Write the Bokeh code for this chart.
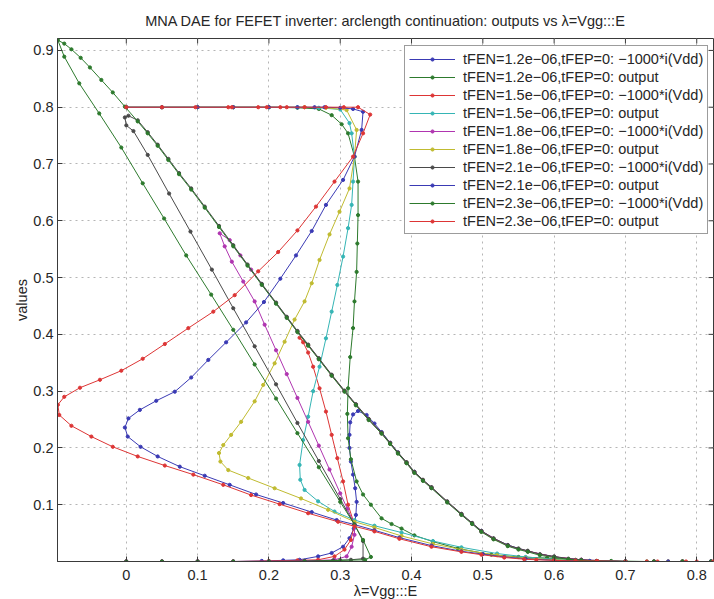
import math
from bokeh.plotting import figure
from bokeh.models import Range1d, FixedTicker, Legend, LegendItem
from bokeh.embed import file_html
from bokeh.resources import INLINE

# ---------------- data (lambda, value) ----------------
x_ticks = [0.0, 0.1, 0.2, 0.3, 0.4, 0.5, 0.6, 0.7, 0.8]
x_tick_labels = ["0", "0.1", "0.2", "0.3", "0.4", "0.5", "0.6", "0.7", "0.8"]
y_ticks = [0.1, 0.2, 0.3, 0.4, 0.5, 0.6, 0.7, 0.8, 0.9]
y_tick_labels = ["0.1", "0.2", "0.3", "0.4", "0.5", "0.6", "0.7", "0.8", "0.9"]
x_lim = (-0.0965, 0.8235)
y_lim = (0.0, 0.921)

series_labels = [
    "tFEN=1.2e\u221206,tFEP=0: \u22121000*i(Vdd)",
    "tFEN=1.2e\u221206,tFEP=0: output",
    "tFEN=1.5e\u221206,tFEP=0: \u22121000*i(Vdd)",
    "tFEN=1.5e\u221206,tFEP=0: output",
    "tFEN=1.8e\u221206,tFEP=0: \u22121000*i(Vdd)",
    "tFEN=1.8e\u221206,tFEP=0: output",
    "tFEN=2.1e\u221206,tFEP=0: \u22121000*i(Vdd)",
    "tFEN=2.1e\u221206,tFEP=0: output",
    "tFEN=2.3e\u221206,tFEP=0: \u22121000*i(Vdd)",
    "tFEN=2.3e\u221206,tFEP=0: output",
]

cur_12 = [(0.0, 0.0), (0.05, 0.0), (0.1, 0.0), (0.15, 0.0), (0.19, 0.001), (0.22, 0.002), (0.243, 0.003),
          (0.269, 0.009), (0.288, 0.015), (0.304, 0.026), (0.313, 0.041), (0.319, 0.058), (0.322, 0.082),
          (0.323, 0.105), (0.321, 0.129), (0.318, 0.153), (0.315, 0.176), (0.313, 0.2), (0.313, 0.223),
          (0.314, 0.245), (0.318, 0.259), (0.325, 0.265), (0.337, 0.258), (0.348, 0.243), (0.358, 0.228),
          (0.37, 0.209), (0.381, 0.192), (0.393, 0.174), (0.404, 0.158), (0.416, 0.143), (0.428, 0.13),
          (0.45, 0.105), (0.47, 0.083), (0.485, 0.067), (0.498, 0.054), (0.515, 0.04), (0.535, 0.029),
          (0.563, 0.018), (0.6, 0.008), (0.638, 0.003), (0.66, 0.001), (0.7, 0.0), (0.74, 0.0), (0.78, 0.0),
          (0.82, 0.0)]

out_12 = [(0.0, 0.8), (0.05, 0.8), (0.1, 0.8), (0.15, 0.8), (0.2, 0.8), (0.24, 0.799), (0.27, 0.797),
          (0.288, 0.786), (0.302, 0.77), (0.311, 0.754), (0.32, 0.713), (0.325, 0.669), (0.325, 0.61),
          (0.324, 0.56), (0.323, 0.51), (0.32, 0.458), (0.318, 0.411), (0.314, 0.36), (0.311, 0.305),
          (0.31, 0.26), (0.311, 0.217), (0.315, 0.18), (0.323, 0.141), (0.332, 0.118), (0.343, 0.1),
          (0.358, 0.076), (0.372, 0.066), (0.386, 0.058), (0.404, 0.046), (0.43, 0.035), (0.465, 0.023),
          (0.512, 0.012), (0.55, 0.008), (0.59, 0.006), (0.63, 0.003), (0.68, 0.001), (0.73, 0.0),
          (0.78, 0.0), (0.82, 0.0)]

cur_15 = [(0.0, 0.0), (0.05, 0.0), (0.1, 0.0), (0.15, 0.0), (0.2, 0.001), (0.24, 0.002), (0.269, 0.003),
          (0.292, 0.009), (0.306, 0.021), (0.315, 0.038), (0.32, 0.065), (0.311, 0.1), (0.304, 0.141),
          (0.296, 0.182), (0.288, 0.223), (0.28, 0.264), (0.271, 0.305), (0.262, 0.343), (0.255, 0.368),
          (0.248, 0.386), (0.243, 0.394), (0.255, 0.381), (0.27, 0.357), (0.288, 0.328), (0.306, 0.3),
          (0.322, 0.276), (0.34, 0.25), (0.358, 0.226), (0.37, 0.208), (0.381, 0.191), (0.393, 0.174),
          (0.404, 0.157), (0.416, 0.143), (0.428, 0.13), (0.45, 0.105), (0.47, 0.083), (0.485, 0.067),
          (0.498, 0.053), (0.515, 0.04), (0.535, 0.028), (0.563, 0.018), (0.6, 0.008), (0.638, 0.003),
          (0.66, 0.001), (0.7, 0.0), (0.74, 0.0), (0.78, 0.0), (0.82, 0.0)]

out_15 = [(0.0, 0.8), (0.05, 0.8), (0.1, 0.8), (0.15, 0.8), (0.2, 0.8), (0.24, 0.8), (0.27, 0.799),
          (0.3, 0.796), (0.313, 0.772), (0.316, 0.754), (0.32, 0.713), (0.318, 0.669), (0.316, 0.628),
          (0.311, 0.587), (0.304, 0.537), (0.296, 0.487), (0.288, 0.44), (0.28, 0.393), (0.271, 0.343),
          (0.262, 0.3), (0.255, 0.255), (0.248, 0.214), (0.243, 0.17), (0.244, 0.144), (0.25, 0.126),
          (0.269, 0.106), (0.292, 0.088), (0.32, 0.073), (0.348, 0.063), (0.386, 0.051), (0.43, 0.036),
          (0.47, 0.025), (0.52, 0.014), (0.56, 0.008), (0.6, 0.004), (0.65, 0.001), (0.7, 0.0),
          (0.76, 0.0), (0.82, 0.0)]

cur_18 = [(0.0, 0.0), (0.05, 0.0), (0.1, 0.0), (0.15, 0.0), (0.2, 0.0), (0.25, 0.001), (0.292, 0.003),
          (0.309, 0.009), (0.316, 0.026), (0.32, 0.047), (0.32, 0.065), (0.31, 0.093), (0.3, 0.12),
          (0.285, 0.162), (0.27, 0.204), (0.255, 0.246), (0.24, 0.288), (0.225, 0.33), (0.21, 0.372),
          (0.194, 0.417), (0.18, 0.458), (0.164, 0.493), (0.148, 0.528), (0.138, 0.555), (0.131, 0.578),
          (0.145, 0.566), (0.16, 0.539), (0.175, 0.514), (0.19, 0.488), (0.21, 0.455), (0.225, 0.43),
          (0.24, 0.405), (0.255, 0.381), (0.27, 0.357), (0.288, 0.328), (0.306, 0.3), (0.322, 0.276),
          (0.34, 0.25), (0.358, 0.226), (0.381, 0.191), (0.404, 0.157), (0.428, 0.13), (0.45, 0.105),
          (0.47, 0.083), (0.498, 0.053), (0.535, 0.028), (0.563, 0.018), (0.6, 0.008), (0.638, 0.003),
          (0.7, 0.0), (0.76, 0.0), (0.82, 0.0)]

out_18 = [(0.0, 0.8), (0.05, 0.8), (0.1, 0.8), (0.15, 0.8), (0.2, 0.8), (0.25, 0.8), (0.28, 0.799),
          (0.309, 0.795), (0.323, 0.76), (0.32, 0.713), (0.313, 0.657), (0.299, 0.616), (0.285, 0.576),
          (0.271, 0.531), (0.26, 0.49), (0.25, 0.458), (0.236, 0.426), (0.222, 0.387), (0.208, 0.349),
          (0.192, 0.311), (0.18, 0.282), (0.161, 0.246), (0.147, 0.223), (0.136, 0.205), (0.13, 0.191),
          (0.132, 0.176), (0.143, 0.161), (0.171, 0.147), (0.208, 0.129), (0.245, 0.111), (0.283, 0.091),
          (0.32, 0.07), (0.348, 0.06), (0.386, 0.045), (0.43, 0.031), (0.47, 0.021), (0.52, 0.011),
          (0.56, 0.006), (0.6, 0.003), (0.65, 0.001), (0.7, 0.0), (0.76, 0.0), (0.82, 0.0)]

cur_21 = [(0.0, 0.0), (0.05, 0.0), (0.1, 0.0), (0.15, 0.0), (0.2, 0.0), (0.25, 0.001), (0.29, 0.002),
          (0.315, 0.003), (0.332, 0.005), (0.332, 0.036), (0.32, 0.065), (0.3, 0.11), (0.27, 0.177),
          (0.24, 0.244), (0.21, 0.312), (0.18, 0.379), (0.15, 0.446), (0.12, 0.514), (0.09, 0.581),
          (0.06, 0.648), (0.03, 0.716), (0.01, 0.758), (0.0, 0.768), (-0.002, 0.782), (0.003, 0.785),
          (0.016, 0.777), (0.03, 0.756), (0.044, 0.734), (0.059, 0.709), (0.074, 0.684), (0.091, 0.657),
          (0.11, 0.625), (0.13, 0.591), (0.15, 0.557), (0.17, 0.523), (0.19, 0.489), (0.21, 0.456),
          (0.225, 0.431), (0.24, 0.406), (0.255, 0.382), (0.27, 0.358), (0.288, 0.329), (0.306, 0.301),
          (0.322, 0.277), (0.34, 0.251), (0.358, 0.227), (0.37, 0.209), (0.381, 0.192), (0.393, 0.175),
          (0.404, 0.158), (0.416, 0.144), (0.428, 0.131), (0.45, 0.106), (0.47, 0.084), (0.485, 0.068),
          (0.498, 0.054), (0.515, 0.041), (0.535, 0.029), (0.55, 0.023), (0.563, 0.019), (0.58, 0.013),
          (0.6, 0.009), (0.62, 0.005), (0.638, 0.003), (0.66, 0.001), (0.7, 0.0), (0.74, 0.0),
          (0.78, 0.0), (0.82, 0.0)]

out_21 = [(0.0, 0.8), (0.05, 0.8), (0.1, 0.8), (0.15, 0.8), (0.2, 0.8), (0.24, 0.8), (0.264, 0.8),
          (0.278, 0.8), (0.3, 0.799), (0.318, 0.797), (0.332, 0.792), (0.33, 0.76), (0.32, 0.713),
          (0.304, 0.672), (0.28, 0.628), (0.26, 0.582), (0.238, 0.539), (0.216, 0.498), (0.193, 0.457),
          (0.168, 0.421), (0.14, 0.386), (0.115, 0.355), (0.091, 0.324), (0.068, 0.299), (0.042, 0.283),
          (0.019, 0.267), (0.003, 0.252), (-0.002, 0.236), (0.002, 0.22), (0.02, 0.202), (0.044, 0.185),
          (0.075, 0.167), (0.11, 0.151), (0.145, 0.135), (0.182, 0.118), (0.22, 0.103), (0.26, 0.087),
          (0.295, 0.073), (0.32, 0.065), (0.348, 0.055), (0.383, 0.042), (0.428, 0.028), (0.47, 0.018),
          (0.5, 0.013), (0.53, 0.008), (0.56, 0.005), (0.6, 0.002), (0.65, 0.001), (0.7, 0.0),
          (0.76, 0.0), (0.82, 0.0)]

cur_23 = [(0.0, 0.0), (0.05, 0.0), (0.1, 0.0), (0.15, 0.0), (0.2, 0.0), (0.25, 0.0), (0.3, 0.002),
          (0.335, 0.003), (0.343, 0.008), (0.332, 0.038), (0.32, 0.065), (0.3, 0.105), (0.27, 0.166),
          (0.24, 0.226), (0.21, 0.287), (0.18, 0.347), (0.15, 0.408), (0.119, 0.47), (0.084, 0.539),
          (0.053, 0.604), (0.023, 0.666), (-0.007, 0.729), (-0.038, 0.789), (-0.066, 0.842),
          (-0.087, 0.889), (-0.096, 0.918), (-0.087, 0.912), (-0.077, 0.902), (-0.064, 0.887),
          (-0.051, 0.87), (-0.035, 0.848), (-0.019, 0.826), (-0.002, 0.801), (0.016, 0.775), (0.03, 0.754),
          (0.044, 0.732), (0.059, 0.707), (0.074, 0.682), (0.091, 0.655), (0.11, 0.623), (0.13, 0.589),
          (0.15, 0.555), (0.17, 0.521), (0.19, 0.487), (0.21, 0.454), (0.225, 0.429), (0.24, 0.404),
          (0.255, 0.38), (0.27, 0.356), (0.288, 0.327), (0.306, 0.299), (0.322, 0.275), (0.34, 0.249),
          (0.358, 0.225), (0.37, 0.207), (0.381, 0.19), (0.393, 0.173), (0.404, 0.156), (0.416, 0.142),
          (0.428, 0.129), (0.45, 0.104), (0.47, 0.082), (0.485, 0.066), (0.498, 0.052), (0.515, 0.039),
          (0.535, 0.027), (0.55, 0.021), (0.563, 0.017), (0.58, 0.011), (0.6, 0.007), (0.62, 0.004),
          (0.638, 0.002), (0.66, 0.001), (0.7, 0.0), (0.74, 0.0), (0.78, 0.0), (0.82, 0.0)]

out_23 = [(0.0, 0.8), (0.05, 0.8), (0.097, 0.8), (0.143, 0.8), (0.148, 0.8), (0.185, 0.8), (0.197, 0.8),
          (0.216, 0.8), (0.225, 0.8), (0.25, 0.8), (0.28, 0.8), (0.305, 0.8), (0.325, 0.8), (0.342, 0.787),
          (0.332, 0.754), (0.318, 0.713), (0.292, 0.669), (0.266, 0.625), (0.24, 0.583), (0.213, 0.545),
          (0.185, 0.511), (0.152, 0.469), (0.122, 0.44), (0.087, 0.411), (0.054, 0.383), (0.023, 0.357),
          (-0.007, 0.336), (-0.037, 0.32), (-0.065, 0.306), (-0.087, 0.29), (-0.096, 0.276),
          (-0.094, 0.258), (-0.077, 0.239), (-0.049, 0.22), (-0.019, 0.202), (0.016, 0.185),
          (0.054, 0.169), (0.094, 0.153), (0.136, 0.135), (0.175, 0.117), (0.215, 0.101), (0.255, 0.085),
          (0.297, 0.07), (0.32, 0.062), (0.348, 0.053), (0.383, 0.04), (0.428, 0.026), (0.47, 0.017),
          (0.498, 0.012), (0.53, 0.007), (0.558, 0.004), (0.575, 0.003), (0.6, 0.002), (0.63, 0.001),
          (0.66, 0.001), (0.7, 0.0), (0.73, 0.0), (0.745, 0.0), (0.785, 0.0), (0.8, 0.0), (0.823, 0.0)]

series_data = [cur_12, out_12, cur_15, out_15, cur_18, out_18, cur_21, out_21, cur_23, out_23]
series_colors = ["#3a3ab4", "#2d7a2d", "#dd3535", "#35b5b5", "#b035b0", "#c0bb30", "#4a4a4a",
                 "#3a3ab4", "#2d7a2d", "#dd3535"]

FONT = "Liberation Sans"
TXT = "#262626"
AX = "#3a3a3a"

p = figure(frame_width=656, frame_height=523,
           x_range=Range1d(*x_lim), y_range=Range1d(*y_lim),
           output_backend="svg", toolbar_location=None,
           min_border_left=57, min_border_right=1, min_border_top=37, min_border_bottom=38,
           background_fill_color="white", border_fill_color="white")

p.title.text = "MNA DAE for FEFET inverter: arclength continuation: outputs vs \u03bb=Vgg:::E"
p.title.align = "center"
p.title.text_font = FONT
p.title.text_font_size = "14.5px"
p.title.text_font_style = "normal"
p.title.text_color = TXT
p.title.standoff = 20

xt = FixedTicker(ticks=x_ticks)
yt = FixedTicker(ticks=y_ticks)

for ax, ticker in ((p.xaxis[0], xt), (p.yaxis[0], yt)):
    ax.ticker = ticker
    ax.major_tick_in = 5
    ax.major_tick_out = 0
    ax.minor_tick_line_color = None
    ax.axis_line_color = AX
    ax.major_tick_line_color = AX
    ax.major_label_text_font = FONT
    ax.major_label_text_font_size = "14.5px"
    ax.major_label_text_color = TXT
    ax.axis_label_text_font = FONT
    ax.axis_label_text_font_size = "14.5px"
    ax.axis_label_text_font_style = "normal"
    ax.axis_label_text_color = TXT

p.xaxis[0].major_label_overrides = dict(zip(x_ticks, x_tick_labels))
p.yaxis[0].major_label_overrides = dict(zip(y_ticks, y_tick_labels))
p.xaxis[0].axis_label = "\u03bb=Vgg:::E"
p.yaxis[0].axis_label = "values"
p.xaxis[0].major_label_standoff = 8
p.xaxis[0].axis_label_standoff = 0
p.yaxis[0].major_label_standoff = 4
p.yaxis[0].axis_label_standoff = 0

# box ticks on the top and right edges (MATLAB "box on"), pointing inwards
p.ray(x=x_ticks, y=[y_lim[1]] * len(x_ticks), length=5, length_units="screen",
      angle=-math.pi / 2, line_color=AX, line_width=1)
p.ray(x=[x_lim[1]] * len(y_ticks), y=y_ticks, length=5, length_units="screen",
      angle=math.pi, line_color=AX, line_width=1)

p.xgrid.ticker = xt
p.ygrid.ticker = yt
for g in (p.xgrid[0], p.ygrid[0]):
    g.grid_line_color = "#b5b5b5"
    g.grid_line_dash = "2 4"
    g.grid_line_width = 1
p.outline_line_color = AX

items = []
for data, col, lab in zip(series_data, series_colors, series_labels):
    xs = [pt[0] for pt in data]
    ys = [pt[1] for pt in data]
    r1 = p.line(xs, ys, line_color=col, line_width=1)
    r2 = p.scatter(xs, ys, marker="circle", size=3.2, fill_color=col, line_color=col)
    items.append(LegendItem(label=lab, renderers=[r1, r2]))

legend = Legend(items=items, location=(347, 327), margin=0, padding=4, spacing=1,
                label_height=17, glyph_height=8, glyph_width=46, label_standoff=8,
                label_text_font=FONT, label_text_font_size="14.5px", label_text_color=TXT,
                border_line_color=AX, border_line_width=1, background_fill_color="white",
                background_fill_alpha=1.0)
p.add_layout(legend)

open("out.html", "w").write(file_html(p, INLINE))
